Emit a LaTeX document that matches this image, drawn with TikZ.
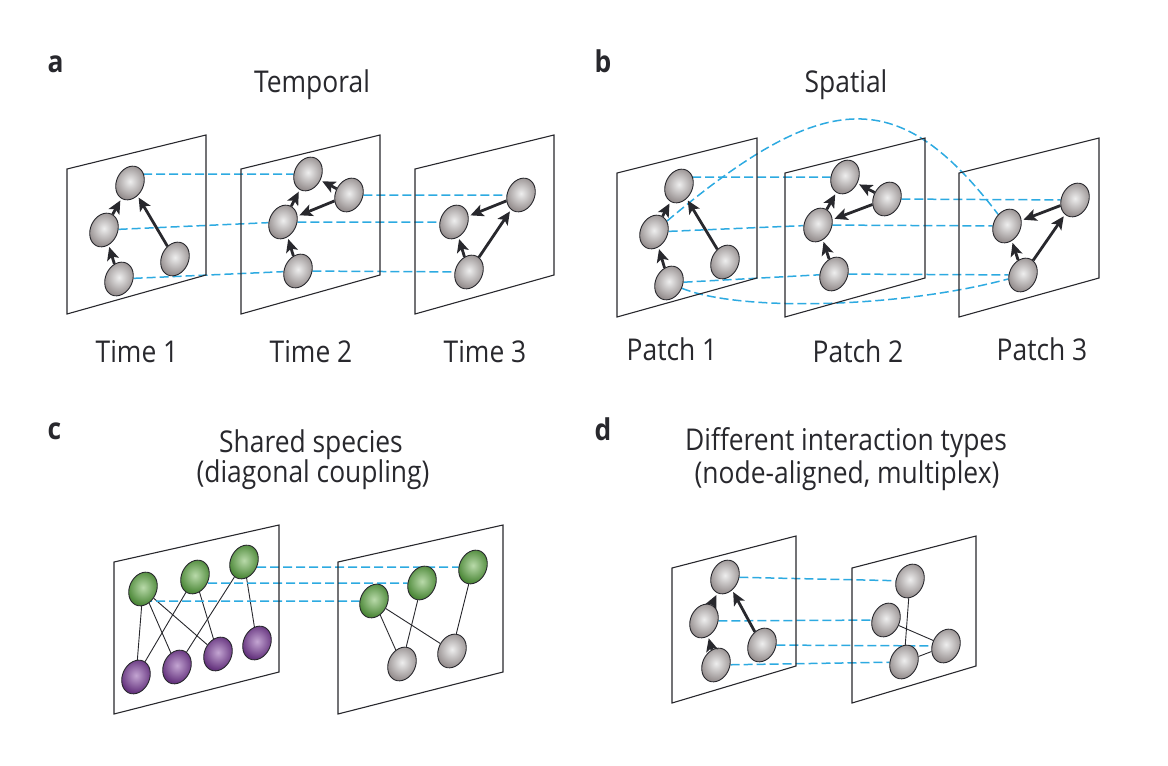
\documentclass[tikz,border=0pt]{standalone}
\usepackage{fontspec}
\setmainfont{Open Sans}[FakeStretch=0.88]
\usetikzlibrary{shapes.geometric,arrows.meta,backgrounds}

\definecolor{linkblue}{RGB}{45,170,225}
\definecolor{spgray}{RGB}{150,143,143}
\definecolor{spgrayin}{RGB}{238,238,238}
\definecolor{greenout}{RGB}{75,135,55}
\definecolor{greenin}{RGB}{185,218,170}
\definecolor{purpleout}{RGB}{100,50,125}
\definecolor{purplein}{RGB}{195,165,210}
\definecolor{ink}{RGB}{40,40,45}

\begin{document}
\begin{tikzpicture}[x=1pt,y=-1pt,
  sp/.style={ellipse,draw=ink,line width=0.9pt,minimum width=27,minimum height=35,
    inner sep=0pt,rotate=-25,shade,inner color=spgrayin,outer color=spgray},
  grn/.style={sp,inner color=greenin,outer color=greenout},
  prp/.style={sp,inner color=purplein,outer color=purpleout},
  plane/.style={draw=ink,line width=1.1pt},
  arr/.style={-{Stealth[length=13pt,width=12pt,inset=3pt]},line width=2.8pt,draw=ink,shorten >=2pt},
  tie/.style={line width=0.9pt,draw=ink},
  lnk/.style={draw=linkblue,line width=1.5pt,dash pattern=on 9pt off 4pt},
  lbl/.style={font=\fontsize{30}{34}\selectfont,anchor=base,text=ink},
  tag/.style={font=\fontsize{30}{34}\selectfont\bfseries,anchor=base west,text=ink}]
\useasboundingbox (0,0) rectangle (1168,766);

% planes
\foreach \x in {67,241,415}
   \draw[plane] (\x,169) -- ++(139,-34) -- ++(0,140) -- ++(-139,39) -- cycle;
\foreach \x in {617,785,959}
   \draw[plane] (\x,173) -- ++(140,-35) -- ++(0,140) -- ++(-140,39) -- cycle;
\foreach \x in {114,338}
   \draw[plane] (\x,562) -- ++(165,-37) -- ++(0,147) -- ++(-165,42) -- cycle;
\foreach \x in {672,852}
   \draw[plane] (\x,568) -- ++(124,-32) -- ++(0,130) -- ++(-124,37) -- cycle;

% labels
\node[tag] (ta) at (44,72) {a};
\node[tag] (tb) at (591,72) {b};
\node[tag] (tc) at (44,439) {c};
\node[tag] (td) at (591,440) {d};
\node[lbl] (temporal) at (312,92) {Temporal};
\node[lbl] (spatial) at (846,92) {Spatial};
\node[lbl] (time1) at (137,362) {Time 1};
\node[lbl] (time2) at (311,362) {Time 2};
\node[lbl] (time3) at (485,362) {Time 3};
\node[lbl] (patch1) at (672,360) {Patch 1};
\node[lbl] (patch2) at (858,362) {Patch 2};
\node[lbl] (patch3) at (1042,360) {Patch 3};
\node[lbl] (shared) at (311,452) {Shared species};
\node[lbl] (diag) at (313,482) {(diagonal coupling)};
\node[lbl] (types) at (846,450) {Different interaction types};
\node[lbl] (multi) at (847,483) {(node-aligned, multiplex)};

% a: temporal
\node[sp] (a1t) at (130,183) {};
\node[sp] (a1m) at (104,230) {};
\node[sp] (a1bl) at (119,279) {};
\node[sp] (a1br) at (175,259) {};
\node[sp] (a2t) at (308,174) {};
\node[sp] (a2r) at (349,195) {};
\node[sp] (a2m) at (283,222) {};
\node[sp] (a2b) at (298,271) {};
\node[sp] (a3tr) at (521,195) {};
\node[sp] (a3m) at (454,222) {};
\node[sp] (a3b) at (469,272) {};
\draw[arr] (a1bl) -- (a1m);
\draw[arr] (a1m) -- (a1t);
\draw[arr] (a1br) -- (a1t);
\draw[arr] (a2r) -- (a2t);
\draw[arr] (a2r) -- (a2m);
\draw[arr] (a2m) -- (a2t);
\draw[arr] (a2b) -- (a2m);
\draw[arr] (a3tr) -- (a3m);
\draw[arr] (a3b) -- (a3m);
\draw[arr] (a3b) -- (a3tr);

% b: spatial
\node[sp] (b1t) at (679,186) {};
\node[sp] (b1m) at (654,232) {};
\node[sp] (b1bl) at (669,283) {};
\node[sp] (b1br) at (725,262) {};
\node[sp] (b2t) at (845,177) {};
\node[sp] (b2r) at (887,199) {};
\node[sp] (b2m) at (818,225) {};
\node[sp] (b2b) at (834,274) {};
\node[sp] (b3tr) at (1075,200) {};
\node[sp] (b3m) at (1007,226) {};
\node[sp] (b3b) at (1023,275) {};
\draw[arr] (b1bl) -- (b1m);
\draw[arr] (b1m) -- (b1t);
\draw[arr] (b1br) -- (b1t);
\draw[arr] (b2r) -- (b2t);
\draw[arr] (b2r) -- (b2m);
\draw[arr] (b2m) -- (b2t);
\draw[arr] (b2b) -- (b2m);
\draw[arr] (b3tr) -- (b3m);
\draw[arr] (b3b) -- (b3m);
\draw[arr] (b3b) -- (b3tr);

% c: shared species
\node[grn] (c1g1) at (143,589) {};
\node[grn] (c1g2) at (195,577) {};
\node[grn] (c1g3) at (244,562) {};
\node[prp] (c1p1) at (136,677) {};
\node[prp] (c1p2) at (177,667) {};
\node[prp] (c1p3) at (218,654) {};
\node[prp] (c1p4) at (257,643) {};
\node[grn] (c2g1) at (374,601) {};
\node[grn] (c2g2) at (422,583) {};
\node[grn] (c2g3) at (473,567) {};
\node[sp] (c2r1) at (402,664) {};
\node[sp] (c2r2) at (452,651) {};
\begin{scope}[on background layer]
\draw[tie] (c1g1) -- (c1p1);
\draw[tie] (c1g1) -- (c1p2);
\draw[tie] (c1g1) -- (c1p3);
\draw[tie] (c1g2) -- (c1p1);
\draw[tie] (c1g2) -- (c1p3);
\draw[tie] (c1g3) -- (c1p2);
\draw[tie] (c1g3) -- (c1p4);
\draw[tie] (c2g1) -- (c2r1);
\draw[tie] (c2g1) -- (c2r2);
\draw[tie] (c2g2) -- (c2r1);
\draw[tie] (c2g3) -- (c2r2);
\end{scope}

% d: multiplex
\node[sp] (d1t) at (725,577) {};
\node[sp] (d1m) at (704,621) {};
\node[sp] (d1b) at (716,665) {};
\node[sp] (d1r) at (762,645) {};
\node[sp] (d2t) at (910,581) {};
\node[sp] (d2m) at (886,620) {};
\node[sp] (d2r) at (946,646) {};
\node[sp] (d2b) at (904,662) {};
\draw[arr] (d1b) -- (d1m);
\draw[arr] (d1m) -- (d1t);
\draw[arr] (d1r) -- (d1t);
\begin{scope}[on background layer]
\draw[tie] (d2t) -- (d2b);
\draw[tie] (d2m) -- (d2r);
\draw[tie] (d2b) -- (d2r);
\end{scope}

% interlayer links
\begin{scope}[on background layer]
\draw[lnk] (a2t -| a1t) -- (a2t);
\draw[lnk] (a1m) -- (a2m) -- (a3m);
\draw[lnk] (a1bl) -- (a2b) -- (a3b);
\draw[lnk] (a2r) -- (a3tr);
\draw[lnk] (b2t -| b1t) -- (b2t);
\draw[lnk] (b1m) -- (b2m) -- (b3m);
\draw[lnk] (b1bl) -- (b2b) -- (b3b);
\draw[lnk] (b2r) -- (b3tr);
\draw[lnk] (b1m) .. controls (827,86) and (900,86) .. (b3m);
\draw[lnk] (b1bl) .. controls (740,312) and (900,308) .. (b3b);
\draw[lnk] (c2g1 -| c1g1) -- (c2g1);
\draw[lnk] (c2g2 -| c1g2) -- (c2g2);
\draw[lnk] (c2g3 -| c1g3) -- (c2g3);
\draw[lnk] (d1t) -- (d2t);
\draw[lnk] (d1m) -- (d2m);
\draw[lnk] (d1r) -- (d2r);
\draw[lnk] (d1b) -- (d2b);
\end{scope}
\end{tikzpicture}
\end{document}
